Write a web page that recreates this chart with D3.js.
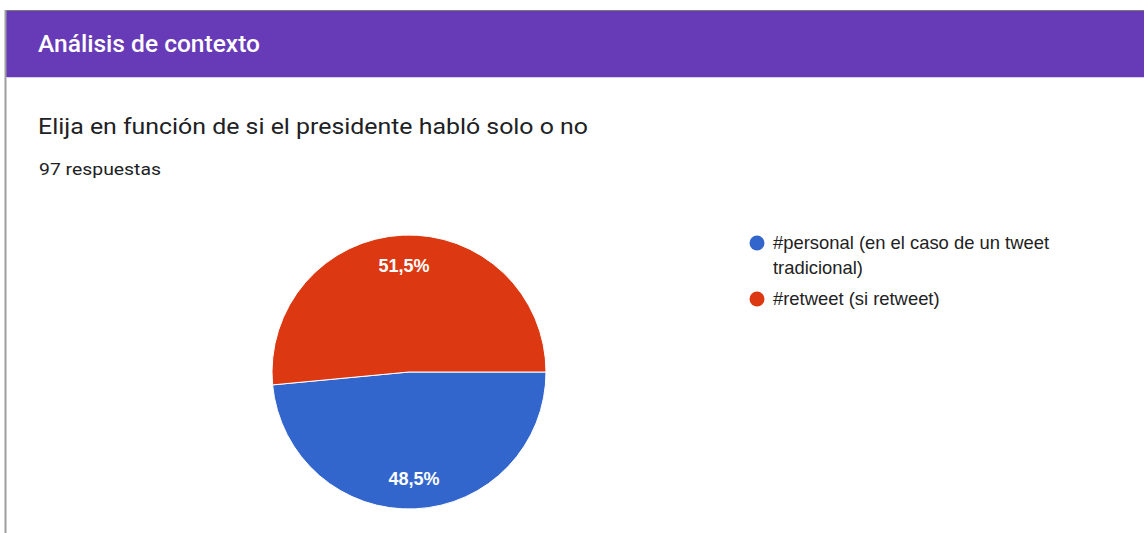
<!DOCTYPE html>
<html>
<head>
<meta charset="utf-8">
<script src="https://cdn.jsdelivr.net/npm/d3@7"></script>
<style>
  html, body { margin: 0; padding: 0; background: #fff; }
  svg { display: block; }
</style>
</head>
<body>
<svg id="chart" width="1144" height="533"></svg>
<script>
// Survey section, question and answer counts
const sectionTitle = "Análisis de contexto";
const question = "Elija en función de si el presidente habló solo o no";
const responses = "97 respuestas";

// Answer options and their shares (percent)
const categories = ["#personal (en el caso de un tweet tradicional)", "#retweet (si retweet)"];
const legendLines = [["#personal (en el caso de un tweet", "tradicional)"], ["#retweet (si retweet)"]];
const values = [48.5, 51.5];
const colors = ["#3366cc", "#dc3912"];

const svg = d3.select("#chart");

// Card frame: header band, top edge and left edge
svg.append("rect").attr("x", 5).attr("y", 10).attr("width", 1139).attr("height", 67).attr("fill", "#673ab7");
svg.append("line").attr("x1", 5).attr("x2", 1144).attr("y1", 10.5).attr("y2", 10.5).attr("stroke", "#7a7a7a").attr("stroke-width", 1);
svg.append("line").attr("x1", 5.5).attr("x2", 5.5).attr("y1", 10).attr("y2", 533).attr("stroke", "#9e9e9e").attr("stroke-width", 2);
svg.append("line").attr("x1", 6).attr("x2", 1144).attr("y1", 77.5).attr("y2", 77.5).attr("stroke", "#d9cdee").attr("stroke-width", 1);

// Fits a text element to a given width
function fit(sel, w) {
  sel.attr("textLength", w).attr("lengthAdjust", "spacingAndGlyphs");
  return sel;
}

fit(svg.append("text").attr("x", 38).attr("y", 52)
  .attr("font-family", "Roboto, Arial, sans-serif").attr("font-size", 23).attr("font-weight", 500)
  .attr("fill", "#fff").text(sectionTitle), 222);

fit(svg.append("text").attr("x", 38).attr("y", 134)
  .attr("font-family", "Roboto, Arial, sans-serif").attr("font-size", 22)
  .attr("fill", "#202124").text(question), 550);

fit(svg.append("text").attr("x", 39).attr("y", 175)
  .attr("font-family", "Roboto, Arial, sans-serif").attr("font-size", 17)
  .attr("fill", "#202124").text(responses), 122);

// Pie, starting at three o'clock and running clockwise
const cx = 409, cy = 372, r = 137;
const pie = d3.pie().sort(null).value(d => d)
  .startAngle(Math.PI / 2).endAngle(Math.PI / 2 + 2 * Math.PI);
const arcs = pie(values);
const arc = d3.arc().innerRadius(0).outerRadius(r);
const labelArc = d3.arc().innerRadius(r * 0.78).outerRadius(r * 0.78);

const g = svg.append("g").attr("transform", `translate(${cx},${cy})`);
g.selectAll("path").data(arcs).join("path")
  .attr("d", arc)
  .attr("fill", (d, i) => colors[i])
  .attr("stroke", "#fff").attr("stroke-width", 1);

g.selectAll("text").data(arcs).join("text")
  .attr("transform", d => `translate(${labelArc.centroid(d)})`)
  .attr("text-anchor", "middle").attr("dy", "0.35em")
  .attr("font-family", "Arial, 'Liberation Sans', sans-serif")
  .attr("font-size", 18).attr("font-weight", "bold")
  .attr("fill", "#fff")
  .text(d => d3.format(".1f")(d.data).replace(".", ",") + "%");

// Legend
const legendY = [243, 299];
const lg = svg.append("g");
categories.forEach((c, i) => {
  lg.append("circle").attr("cx", 757).attr("cy", legendY[i]).attr("r", 7.5).attr("fill", colors[i]);
  const t = lg.append("text").attr("x", 773).attr("y", legendY[i] + 6)
    .attr("font-family", "Arial, 'Liberation Sans', sans-serif").attr("font-size", 18.4)
    .attr("fill", "#222");
  legendLines[i].forEach((line, j) => {
    t.append("tspan").attr("x", 773).attr("dy", j === 0 ? 0 : 25).text(line);
  });
});
</script>
</body>
</html>
